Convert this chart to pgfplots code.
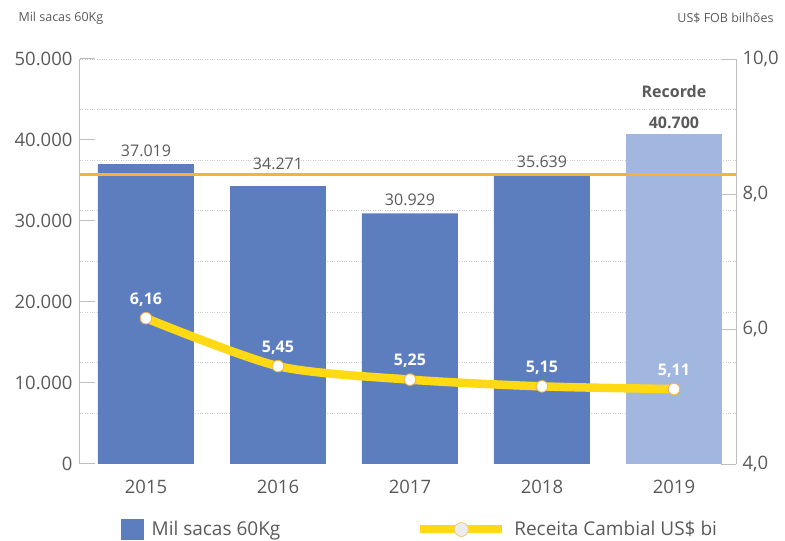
\documentclass[border=0pt]{standalone}
\usepackage{pgfplots}
\pgfplotsset{compat=1.18}
\usepackage{pgfplotstable}
\usepackage{fontspec}
\setmainfont{Open Sans}
\definecolor{barblue}{RGB}{92,126,191}
\definecolor{barlight}{RGB}{161,183,223}
\definecolor{orangeline}{RGB}{247,177,60}
\definecolor{yellowline}{RGB}{255,217,20}
\definecolor{txt}{RGB}{90,90,90}
\definecolor{axisgray}{RGB}{190,190,190}

\pgfplotstableread{
x y label
0 37019 37.019
2 30929 30.929
3 35639 35.639
}\bars
\pgfplotstableread{
x y label
1 34271 34.271
}\barstwo
\pgfplotstableread{
x y label
0 6.16 6,16
1 5.45 5,45
2 5.25 5,25
3 5.15 5,15
4 5.11 5,11
}\receita

\begin{document}
\begin{tikzpicture}
\useasboundingbox (-80pt,-77pt) rectangle (705pt,464pt);
\begin{axis}[name=ax1, scale only axis, width=656pt, height=405pt,
  xmin=-0.5, xmax=4.47, ymin=0, ymax=50000,
  axis y line*=left, axis x line*=bottom,
  x axis line style={draw=none},
  xtick={0,1,2,3,4}, xticklabels={2015,2016,2017,2018,2019},
  major x tick style={draw=none},
  xticklabel style={yshift=-13pt},
  scaled y ticks=false,
  ytick={0,10000,20000,30000,40000,50000},
  yticklabels={0,10.000,20.000,30.000,40.000,50.000},
  yticklabel style={xshift=-4pt},
  tick align=inside, major tick length=15pt,
  y axis line style={draw=axisgray, line width=1pt},
  major y tick style={draw=axisgray, line width=1pt},
  extra y ticks={6250,12500,18750,25000,31250,37500,43750,50000},
  extra y tick labels={},
  extra y tick style={grid=major, major tick length=0pt,
     major grid style={dotted, draw=gray!40, line width=0.8pt}},
  tick label style={font=\fontsize{18.5}{20}\selectfont, text=txt},
  /pgf/number format/assume math mode=true,
  clip=false,
]
\addplot[ybar, bar shift=0pt, bar width=96pt, fill=barblue, draw=none,
  nodes near coords, point meta=explicit symbolic,
  nodes near coords style={font=\fontsize{16}{18}\selectfont, text=txt, anchor=south, yshift=4pt}]
  table[x=x, y=y, meta=label]{\bars};
\addplot[ybar, bar shift=0pt, bar width=96pt, fill=barblue, draw=none,
  nodes near coords, point meta=explicit symbolic,
  nodes near coords style={font=\fontsize{16}{18}\selectfont, text=txt, anchor=south, yshift=13pt}]
  table[x=x, y=y, meta=label]{\barstwo};
\addplot[ybar, bar shift=0pt, bar width=96pt, fill=barlight, draw=none,
  nodes near coords={Recorde\\40.700},
  nodes near coords style={font=\bfseries\fontsize{16}{31}\selectfont, text=txt, anchor=south, align=center, yshift=2pt}]
  coordinates {(4,40700)};
\addplot[orangeline, line width=3.5pt] coordinates {(-0.5,35712) (4.47,35712)};
\end{axis}
\begin{axis}[scale only axis, width=656pt, height=405pt,
  xmin=-0.5, xmax=4.47, ymin=4, ymax=10,
  axis y line*=right, axis x line=none,
  ytick={4,6,8,10}, yticklabels={{4,0},{6,0},{8,0},{10,0}},
  yticklabel style={xshift=3pt},
  tick align=inside, major tick length=15pt,
  y axis line style={draw=axisgray, line width=1pt},
  major y tick style={draw=axisgray, line width=1pt},
  tick label style={font=\fontsize{18.5}{20}\selectfont, text=txt},
  clip=false,
  legend style={at={(rel axis cs:0.0625,-0.136)}, anchor=north west, draw=none, fill=none,
     legend columns=2, font=\fontsize{19}{22}\selectfont, text=txt, inner sep=0pt,
     /tikz/every odd column/.append style={column sep=6pt},
     /tikz/every even column/.append style={column sep=134pt}},
  legend cell align=left,
]
\addlegendimage{legend image code/.code={\fill[barblue] (0pt,-10pt) rectangle (22pt,10pt);}}
\addlegendentry{Mil sacas 60Kg}
\addplot[yellowline, line width=8.5pt, smooth, tension=0.45,
  mark=*, mark size=5.8pt, mark options={solid, fill=white, draw=orangeline, line width=0.8pt},
  nodes near coords, point meta=explicit symbolic,
  nodes near coords style={font=\bfseries\fontsize{16}{18}\selectfont, text=white, anchor=south, yshift=8pt},
  legend image code/.code={\draw[yellowline, line width=8pt] (0pt,0pt) -- (82pt,0pt);
     \draw[fill=gray!15, draw=orangeline!70, line width=0.8pt] (41pt,0pt) circle (7pt);}]
  table[x=x, y=y, meta=label]{\receita};
\addlegendentry{Receita Cambial US\$ bi}
\end{axis}
\node[anchor=west, font=\fontsize{12.5}{14}\selectfont, text=txt] at (-65pt,446pt) {Mil sacas 60Kg};
\node[anchor=east, font=\fontsize{12.5}{14}\selectfont, text=txt] at (697pt,446pt) {US\$ FOB bilhões};
\end{tikzpicture}
\end{document}
